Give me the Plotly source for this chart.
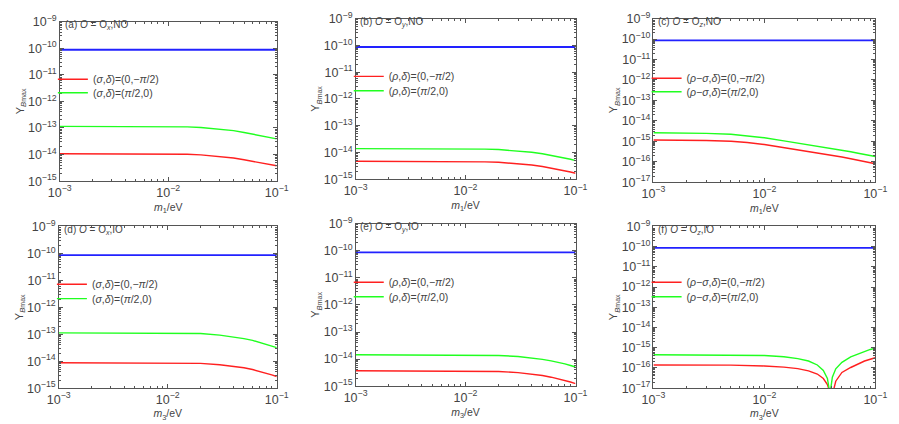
import plotly.graph_objects as go
from plotly.subplots import make_subplots

# neutrino mass grid (eV)
m_grid = [0.001, 0.002, 0.003, 0.005, 0.007, 0.01, 0.015, 0.02, 0.03, 0.04,
          0.05, 0.06, 0.07, 0.08, 0.09, 0.1]
m_ends = [0.001, 0.1]

# observed baryon asymmetry (blue line)
yb_obs = [8.7e-11, 8.7e-11]

# (a) O = Ox, NO
a_red = [1.08e-14, 1.08e-14, 1.08e-14, 1.075e-14, 1.07e-14, 1.06e-14, 1.03e-14, 9.8e-15,
         8.7e-15, 7.5e-15, 6.4e-15, 5.6e-15, 4.9e-15, 4.4e-15, 4.1e-15, 3.8e-15]
a_green = [1.15e-13, 1.15e-13, 1.15e-13, 1.145e-13, 1.14e-13, 1.13e-13, 1.10e-13, 1.05e-13,
           9.3e-14, 8.0e-14, 6.8e-14, 5.9e-14, 5.2e-14, 4.6e-14, 4.2e-14, 3.9e-14]

# (b) O = Oy, NO
b_red = [4.7e-15, 4.7e-15, 4.7e-15, 4.68e-15, 4.66e-15, 4.61e-15, 4.49e-15, 4.33e-15,
         3.90e-15, 3.43e-15, 3.01e-15, 2.63e-15, 2.35e-15, 2.12e-15, 1.88e-15, 1.68e-15]
b_green = [1.40e-14, 1.40e-14, 1.40e-14, 1.39e-14, 1.39e-14, 1.37e-14, 1.34e-14, 1.29e-14,
           1.16e-14, 1.02e-14, 9.0e-15, 7.9e-15, 7.0e-15, 6.3e-15, 5.6e-15, 5.0e-15]

# (c) O = Oz, NO
c_red = [1.15e-15, 1.13e-15, 1.10e-15, 1.00e-15, 8.8e-16, 7.0e-16, 5.0e-16, 3.8e-16,
         2.7e-16, 2.1e-16, 1.7e-16, 1.4e-16, 1.2e-16, 1.05e-16, 9.0e-17, 8.0e-17]
c_green = [2.6e-15, 2.55e-15, 2.45e-15, 2.2e-15, 1.9e-15, 1.5e-15, 1.05e-15, 8.2e-16,
           6.0e-16, 4.5e-16, 3.7e-16, 3.1e-16, 2.6e-16, 2.3e-16, 2.0e-16, 1.8e-16]

# (d) O = Ox, IO
d_red = [8.8e-15, 8.8e-15, 8.8e-15, 8.78e-15, 8.75e-15, 8.7e-15, 8.55e-15, 8.3e-15,
         7.4e-15, 6.5e-15, 5.7e-15, 4.9e-15, 4.2e-15, 3.6e-15, 3.1e-15, 2.7e-15]
d_green = [1.12e-13, 1.12e-13, 1.12e-13, 1.118e-13, 1.115e-13, 1.11e-13, 1.09e-13, 1.06e-13,
           9.3e-14, 8.0e-14, 6.9e-14, 5.9e-14, 5.0e-14, 4.3e-14, 3.7e-14, 3.2e-14]

# (e) O = Oy, IO
e_red = [3.7e-15, 3.7e-15, 3.7e-15, 3.69e-15, 3.68e-15, 3.65e-15, 3.58e-15, 3.48e-15,
         3.18e-15, 2.82e-15, 2.47e-15, 2.15e-15, 1.88e-15, 1.64e-15, 1.43e-15, 1.25e-15]
e_green = [1.45e-14, 1.45e-14, 1.45e-14, 1.445e-14, 1.44e-14, 1.43e-14, 1.40e-14, 1.36e-14,
           1.25e-14, 1.11e-14, 9.8e-15, 8.6e-15, 7.6e-15, 6.7e-15, 5.8e-15, 5.1e-15]

# (f) O = Oz, IO  (both curves pass through zero near m3 ~ 0.04 eV)
f_red_m = [0.001, 0.005, 0.01, 0.015, 0.02, 0.025, 0.03, 0.034, 0.037, 0.039, 0.0402,
           0.0415, 0.044, 0.05, 0.06, 0.07, 0.08, 0.09, 0.1]
f_red = [1.4e-16, 1.38e-16, 1.25e-16, 1.1e-16, 9.2e-17, 7.2e-17, 5.0e-17, 3.0e-17, 1.5e-17,
         6e-18, 1e-19, 6e-18, 2.2e-17, 6e-17, 1.05e-16, 1.6e-16, 2.2e-16, 2.7e-16, 3.2e-16]
f_green_m = [0.001, 0.005, 0.01, 0.015, 0.02, 0.025, 0.03, 0.034, 0.037, 0.0385, 0.039,
             0.0395, 0.041, 0.044, 0.05, 0.06, 0.07, 0.08, 0.09, 0.1]
f_green = [4.5e-16, 4.4e-16, 4.1e-16, 3.6e-16, 2.9e-16, 2.2e-16, 1.4e-16, 7.5e-17, 3.0e-17,
           8e-18, 1e-19, 8e-18, 3.5e-17, 9e-17, 1.9e-16, 3.5e-16, 5.0e-16, 6.6e-16, 8.2e-16, 9.6e-16]

panels = [
    ('(a) <i>O</i> = O<sub><i>x</i></sub>,NO', 'σ', m_grid, a_red, m_grid, a_green, 1),
    ('(b) <i>O</i> = O<sub><i>y</i></sub>,NO', 'ρ', m_grid, b_red, m_grid, b_green, 1),
    ('(c) <i>O</i> = O<sub><i>z</i></sub>,NO', 'ρ−σ', m_grid, c_red, m_grid, c_green, 1),
    ('(d) <i>O</i> = O<sub><i>x</i></sub>,IO', 'σ', m_grid, d_red, m_grid, d_green, 3),
    ('(e) <i>O</i> = O<sub><i>y</i></sub>,IO', 'ρ', m_grid, e_red, m_grid, e_green, 3),
    ('(f) <i>O</i> = O<sub><i>z</i></sub>,IO', 'ρ−σ', f_red_m, f_red, f_green_m, f_green, 3),
]

# frame positions in pixels (left, right, top, bottom) and legend row centres
W, H = 899, 424
frames = [(49, 272, 13, 179), (353, 579, 10, 177), (659, 887, 10, 180),
          (48, 272, 226, 394), (353, 579, 223, 392), (659, 887, 226, 394)]
legend_rows = [(77, 91), (74, 89), (76, 90), (290, 305), (288, 303), (288, 303)]
y_ranges = [[-15, -9], [-15, -9], [-17, -9], [-15, -9], [-15, -9], [-17, -9]]

fig = make_subplots(rows=2, cols=3)

grey = '#555555'
txt = '#444444'


def legend_name(k):
    return 'legend' if k == 1 else 'legend%d' % k


for i, (label, ang, xr, yr, xg, yg, idx) in enumerate(panels):
    row, col = i // 3 + 1, i % 3 + 1
    l, r, t, b = frames[i]
    leg_r, leg_g = legend_name(2 * i + 1), legend_name(2 * i + 2)

    fig.add_trace(go.Scatter(x=m_ends, y=yb_obs, mode='lines', line=dict(color='#2222ff', width=1.8),
                             showlegend=False), row=row, col=col)
    fig.add_trace(go.Scatter(x=xr, y=yr, mode='lines', line=dict(color='#ff2020', width=1.4),
                             name='(<i>%s</i>,<i>δ</i>)=(0,−<i>π</i>/2)' % ang, legend=leg_r),
                  row=row, col=col)
    fig.add_trace(go.Scatter(x=xg, y=yg, mode='lines', line=dict(color='#20ff20', width=1.4),
                             name='(<i>%s</i>,<i>δ</i>)=(<i>π</i>/2,0)' % ang, legend=leg_g),
                  row=row, col=col)

    axis_common = dict(type='log', dtick=1, exponentformat='power', showline=True,
                       linecolor=grey, linewidth=1, mirror='ticks', ticks='inside', ticklen=4,
                       tickcolor=grey, showgrid=False, zeroline=False,
                       minor=dict(ticks='inside', ticklen=2, dtick='D1', tickcolor=grey),
                       tickfont=dict(size=10, color=txt))
    fig.update_xaxes(axis_common, range=[-3, -1], domain=[l / W, r / W],
                     title=dict(text='<i>m</i><sub>%d</sub>/eV' % idx, font=dict(size=10.5, color=txt),
                                standoff=4),
                     row=row, col=col)
    fig.update_yaxes(axis_common, range=y_ranges[i], domain=[1 - b / H, 1 - t / H],
                     title=dict(text='Y<sub><i>B</i><span style="font-size:7px">max</span></sub>',
                                font=dict(size=11, color=txt), standoff=1),
                     row=row, col=col)

    fig.add_annotation(text=label, xref='paper', yref='paper', x=(l + 3) / W, y=1 - (t + 4) / H,
                       xanchor='left', yanchor='middle', showarrow=False,
                       font=dict(size=10, color=txt))
    for leg, ypix in zip((leg_r, leg_g), legend_rows[i]):
        fig.update_layout({leg: dict(x=(l - 7) / W, y=1 - (ypix - 4) / H, xanchor='left',
                                     yanchor='middle', bgcolor='rgba(0,0,0,0)',
                                     font=dict(size=10.5, color=txt), itemwidth=30)})

fig.update_layout(width=W, height=H, margin=dict(l=0, r=0, t=0, b=0),
                  paper_bgcolor='white', plot_bgcolor='white',
                  font=dict(family='Liberation Sans, Arial, sans-serif', color=txt))

fig.write_html('out.html', config={'displayModeBar': False},
               post_script="document.body.style.margin='0';")
